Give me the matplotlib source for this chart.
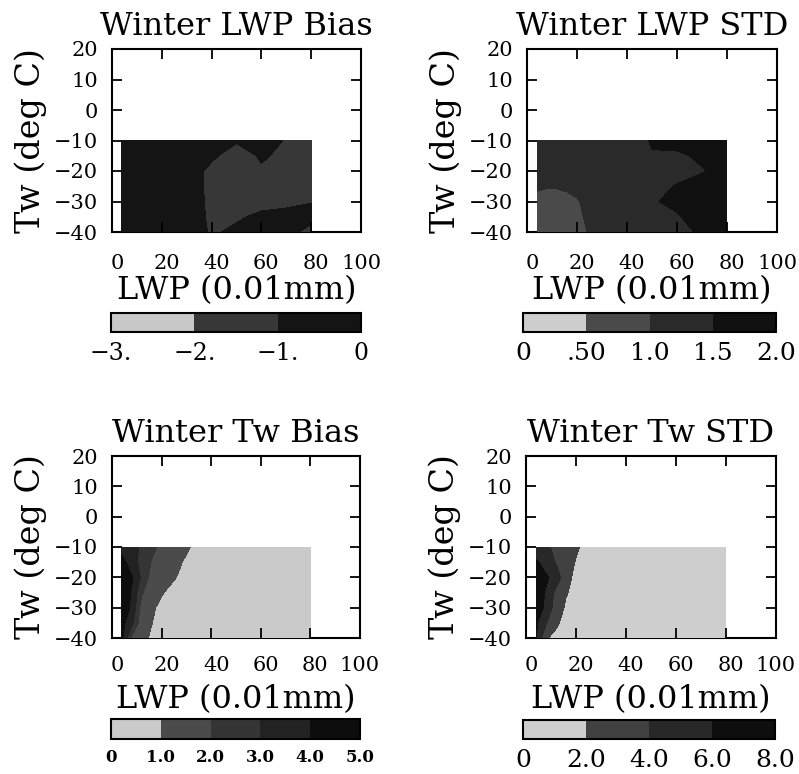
import matplotlib
matplotlib.use("Agg")
import matplotlib.pyplot as plt
import matplotlib.transforms as mtransforms
import numpy as np

plt.rcParams["font.family"] = "DejaVu Serif"

# LWP / Tw bin grid of the winter statistics
lwp_grid = [4, 8, 12, 16, 20, 25, 30, 35, 40, 50, 60, 70, 80]
tw_grid = [-10, -15, -20, -25, -30, -35, -40]

lwp_bias = [
    [-0.5, -0.5, -0.5, -0.5, -0.5, -0.5, -0.5, -0.5, -0.6, -0.9, -0.7, -1.05, -1.3],
    [-0.5, -0.5, -0.5, -0.5, -0.5, -0.5, -0.5, -0.6, -0.85, -1.4, -0.9, -1.2, -1.4],
    [-0.5, -0.5, -0.5, -0.5, -0.5, -0.5, -0.5, -0.9, -1.2, -1.4, -1.1, -1.3, -1.3],
    [-0.5, -0.5, -0.5, -0.5, -0.5, -0.5, -0.6, -0.9, -1.2, -1.3, -1.3, -1.3, -1.3],
    [-0.5, -0.5, -0.5, -0.5, -0.5, -0.5, -0.6, -0.85, -1.2, -1.35, -1.25, -1.15, -1.02],
    [-0.5, -0.5, -0.5, -0.5, -0.5, -0.5, -0.6, -0.85, -1.15, -1.1, -0.85, -0.8, -0.85],
    [-0.5, -0.5, -0.5, -0.5, -0.5, -0.5, -0.6, -0.8, -1.1, -0.85, -0.7, -0.85, -1.15],
]
lwp_std = [
    [1.2, 1.2, 1.2, 1.2, 1.2, 1.2, 1.2, 1.2, 1.3, 1.53, 1.6, 1.6, 1.6],
    [1.2, 1.2, 1.2, 1.2, 1.2, 1.2, 1.2, 1.2, 1.3, 1.48, 1.45, 1.55, 1.6],
    [1.2, 1.2, 1.2, 1.2, 1.2, 1.2, 1.2, 1.2, 1.3, 1.4, 1.4, 1.48, 1.6],
    [1.05, 1.02, 1.03, 1.06, 1.1, 1.15, 1.2, 1.2, 1.3, 1.4, 1.52, 1.6, 1.6],
    [0.9, 0.85, 0.85, 0.9, 0.97, 1.1, 1.2, 1.2, 1.3, 1.48, 1.55, 1.65, 1.55],
    [0.85, 0.85, 0.85, 0.9, 0.95, 1.05, 1.15, 1.2, 1.25, 1.35, 1.48, 1.6, 1.6],
    [0.85, 0.85, 0.85, 0.88, 0.92, 1.02, 1.1, 1.15, 1.2, 1.3, 1.4, 1.55, 1.6],
]
tw_bias = [
    [3.6, 3.2, 2.9, 2.2, 1.8, 1.5, 1.1, 0.8, 0.6, 0.5, 0.5, 0.5, 0.5],
    [4.3, 3.5, 2.6, 1.95, 1.6, 1.2, 0.9, 0.7, 0.6, 0.5, 0.5, 0.5, 0.5],
    [4.6, 4.1, 2.8, 1.6, 1.4, 1.05, 0.8, 0.6, 0.5, 0.5, 0.5, 0.5, 0.5],
    [4.5, 3.9, 2.1, 1.5, 1.05, 0.8, 0.6, 0.5, 0.5, 0.5, 0.5, 0.5, 0.5],
    [4.4, 3.9, 1.5, 1.1, 0.85, 0.65, 0.55, 0.5, 0.5, 0.5, 0.5, 0.5, 0.5],
    [4.3, 3.3, 1.25, 1.02, 0.7, 0.6, 0.5, 0.5, 0.5, 0.5, 0.5, 0.5, 0.5],
    [4.2, 1.8, 1.2, 0.9, 0.7, 0.55, 0.5, 0.5, 0.5, 0.5, 0.5, 0.5, 0.5],
]
tw_std = [
    [4.8, 4.3, 3.6, 2.9, 2.2, 1.5, 1.2, 1.0, 1.0, 1.0, 1.0, 1.0, 1.0],
    [6.3, 5.3, 3.8, 2.7, 1.9, 1.5, 1.2, 1.0, 1.0, 1.0, 1.0, 1.0, 1.0],
    [6.8, 6.2, 5.4, 2.4, 1.7, 1.4, 1.2, 1.0, 1.0, 1.0, 1.0, 1.0, 1.0],
    [6.6, 5.9, 3.4, 2.1, 1.6, 1.3, 1.1, 1.0, 1.0, 1.0, 1.0, 1.0, 1.0],
    [6.5, 5.8, 2.8, 1.8, 1.5, 1.3, 1.1, 1.0, 1.0, 1.0, 1.0, 1.0, 1.0],
    [6.3, 4.2, 2.2, 1.6, 1.4, 1.2, 1.0, 1.0, 1.0, 1.0, 1.0, 1.0, 1.0],
    [6.2, 2.1, 1.7, 1.4, 1.3, 1.1, 1.0, 1.0, 1.0, 1.0, 1.0, 1.0, 1.0],
]

lwp_bias_levels = [-3, -2, -1, 0]
lwp_std_levels = [0, 0.5, 1.0, 1.5, 2.0]
tw_bias_levels = [0, 1, 2, 3, 4, 5]
tw_std_levels = [0, 2, 4, 6, 8]

lwp_bias_labels = ["\u22123.", "\u22122.", "\u22121.", "0"]
lwp_std_labels = ["0", ".50", "1.0", "1.5", "2.0"]
tw_bias_labels = ["0", "1.0", "2.0", "3.0", "4.0", "5.0"]
tw_std_labels = ["0", "2.0", "4.0", "6.0", "8.0"]

lwp_bias_colors = ["#c8c8c8", "#373737", "#141414"]
lwp_std_colors = ["#cdcdcd", "#4a4a4a", "#2a2a2a", "#101010"]
tw_bias_colors = ["#cacaca", "#4b4b4b", "#353535", "#222222", "#0d0d0d"]
tw_std_colors = ["#cecece", "#414141", "#282828", "#0e0e0e"]

x_ticks = [0, 20, 40, 60, 80, 100]
y_ticks = [-40, -30, -20, -10, 0, 10, 20]

W, H = 799, 774


def rect(l, t, r, b):
    return [l / W, 1 - b / H, (r - l) / W, (b - t) / H]


panels = [
    ("Winter LWP Bias", lwp_bias, lwp_bias_levels, lwp_bias_colors, lwp_bias_labels,
     rect(112, 49, 361, 232), rect(111, 313, 361, 332), 17, "normal", 16, -0.322),
    ("Winter LWP STD", lwp_std, lwp_std_levels, lwp_std_colors, lwp_std_labels,
     rect(527, 49, 777, 232), rect(523, 313, 776, 332), 18, "normal", 16, -0.322),
    ("Winter Tw Bias", tw_bias, tw_bias_levels, tw_bias_colors, tw_bias_labels,
     rect(112, 456, 360, 638), rect(111, 719, 360, 739), 12, "bold", 13, -0.338),
    ("Winter Tw STD", tw_std, tw_std_levels, tw_std_colors, tw_std_labels,
     rect(526, 456, 776, 638), rect(523, 720, 775, 739), 18, "normal", 13, -0.338),
]

fig = plt.figure(figsize=(7.99, 7.74), dpi=100)
shift = mtransforms.ScaledTranslation(5 / 100, 0, fig.dpi_scale_trans)

for title, field, levels, colors, cb_labels, ax_rect, cb_rect, cb_size, cb_weight, xpad, xlab_y in panels:
    ax = fig.add_axes(ax_rect)
    cf = ax.contourf(lwp_grid, tw_grid, np.array(field), levels=levels,
                     colors=colors, zorder=2.6)
    ax.xaxis.set_zorder(3)
    ax.yaxis.set_zorder(3)
    ax.set_xlim(0, 100)
    ax.set_ylim(-40, 20)
    ax.set_xticks(x_ticks)
    ax.set_yticks(y_ticks)
    ax.tick_params(direction="in", length=7, width=1.3, top=True, right=True,
                   labelsize=15)
    ax.tick_params(axis="x", pad=xpad)
    ax.tick_params(axis="y", pad=10)
    for lab in ax.get_xticklabels()[:-1]:
        lab.set_transform(lab.get_transform() + shift)
    for s in ax.spines.values():
        s.set_linewidth(1.5)
    ax.set_title(title, fontsize=23, pad=10)
    ax.text(0.5, xlab_y, "LWP (0.01mm)", transform=ax.transAxes,
            ha="center", va="center", fontsize=23)
    ax.text(-0.326, 0.5, "Tw (deg C)", transform=ax.transAxes, rotation=90,
            ha="center", va="center", fontsize=24)

    cax = fig.add_axes(cb_rect)
    cb = fig.colorbar(cf, cax=cax, orientation="horizontal", ticks=levels)
    cb.outline.set_linewidth(1.5)
    cax.set_xticklabels(cb_labels)
    cax.tick_params(length=0, pad=7, labelsize=cb_size)
    for lab in cax.get_xticklabels():
        lab.set_fontweight(cb_weight)

fig.savefig("out.png", dpi=100)
